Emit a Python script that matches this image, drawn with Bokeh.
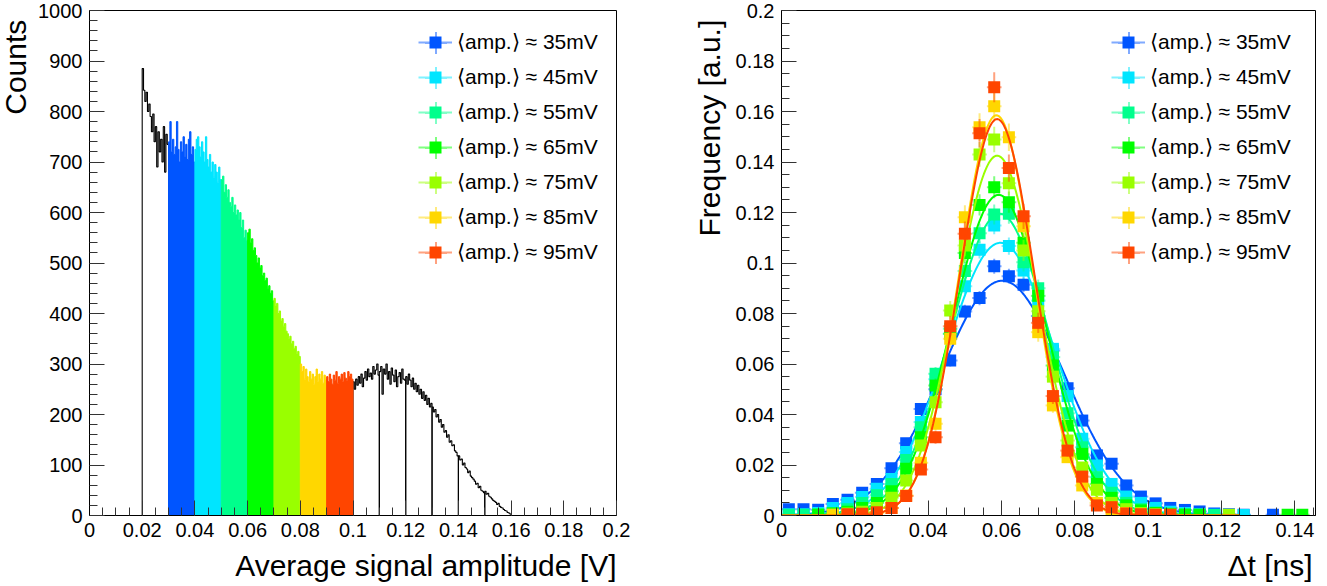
import math
import numpy as np
from bokeh.plotting import figure
from bokeh.layouts import row, column
from bokeh.models import (Label, Legend, LegendItem, SingleIntervalTicker,
                          CustomJSTickFormatter, Range1d)
from bokeh.embed import file_html
from bokeh.resources import INLINE

FONT = "Liberation Sans"
NAN = float("nan")

# ---------------------------------------------------------------- data
series_labels = ["⟨amp.⟩ ≈ 35mV", "⟨amp.⟩ ≈ 45mV", "⟨amp.⟩ ≈ 55mV",
                 "⟨amp.⟩ ≈ 65mV", "⟨amp.⟩ ≈ 75mV", "⟨amp.⟩ ≈ 85mV",
                 "⟨amp.⟩ ≈ 95mV"]
series_colors = ["#0055ff", "#00e5ff", "#00ff8c", "#00ff00",
                 "#99ff00", "#ffd700", "#ff4500"]

# Left: histogram of average signal amplitude (bin width 0.0005 V)
amp_bin_width = 0.0005
amp_slice_edges = [0.02, 0.03, 0.04, 0.05, 0.06, 0.07, 0.08, 0.09,
                   0.10, 0.11, 0.12, 0.13, 0.14, 0.15, 0.16]
counts_020_030 = [885, 842, 820, 838, 800, 815, 790, 760, 795, 740,
                  770, 690, 760, 720, 745, 700, 770, 680, 755, 735]
counts_030_040 = [740, 780, 720, 745, 715, 730, 780, 725, 700, 740,
                  720, 750, 710, 735, 705, 745, 760, 715, 730, 700]
counts_040_050 = [725, 745, 750, 730, 710, 740, 720, 700, 750, 705,
                  690, 715, 680, 700, 670, 695, 680, 660, 690, 665]
counts_050_060 = [665, 672, 640, 655, 630, 645, 620, 612, 630, 600,
                  615, 595, 605, 585, 600, 570, 585, 550, 565, 545]
counts_060_070 = [560, 567, 540, 548, 525, 530, 515, 500, 510, 490,
                  495, 475, 480, 465, 470, 450, 455, 440, 445, 425]
counts_070_080 = [430, 415, 420, 400, 405, 385, 390, 375, 380, 365,
                  360, 350, 355, 340, 345, 330, 335, 320, 325, 315]
counts_080_090 = [300, 285, 295, 270, 290, 275, 265, 285, 270, 280,
                  260, 275, 290, 265, 280, 270, 285, 262, 278, 270]
counts_090_100 = [275, 265, 280, 270, 260, 278, 268, 285, 262, 275,
                  270, 280, 265, 283, 272, 268, 285, 275, 280, 270]
counts_100_110 = [265, 250, 270, 258, 275, 262, 280, 255, 272, 285,
                  268, 290, 275, 282, 270, 295, 280, 288, 300, 278]
counts_110_120 = [285, 295, 240, 290, 280, 300, 270, 285, 260, 292,
                  278, 265, 288, 255, 275, 283, 262, 290, 270, 268]
counts_120_130 = [275, 260, 280, 268, 255, 272, 250, 262, 245, 258,
                  240, 250, 232, 245, 228, 238, 220, 232, 215, 222]
counts_130_140 = [215, 205, 210, 195, 200, 185, 190, 175, 180, 165,
                  168, 155, 160, 145, 148, 138, 140, 128, 125, 118]
counts_140_150 = [118, 110, 112, 100, 104, 95, 92, 85, 88, 78,
                  75, 72, 68, 62, 64, 55, 58, 50, 48, 45]
counts_150_160 = [48, 42, 44, 38, 36, 33, 30, 28, 26, 22,
                  24, 18, 16, 15, 12, 10, 9, 6, 5, 3]
amp_slice_counts = [counts_020_030, counts_030_040, counts_040_050,
                    counts_050_060, counts_060_070, counts_070_080,
                    counts_080_090, counts_090_100, counts_100_110,
                    counts_110_120, counts_120_130, counts_130_140,
                    counts_140_150, counts_150_160]
# which legend series colours each slice (None = black outline only)
amp_slice_series = [None, 0, 1, 2, 3, 4, 5, 6,
                    None, None, None, None, None, None]

# Right: time-difference distributions (bin centres in ns)
dt_centers = [0.002, 0.006, 0.010, 0.014, 0.018, 0.022, 0.026, 0.030,
              0.034, 0.038, 0.042, 0.046, 0.050, 0.054, 0.058, 0.062,
              0.066, 0.070, 0.074, 0.078, 0.082, 0.086, 0.090, 0.094,
              0.098, 0.102, 0.106, 0.110, 0.114, 0.118, 0.122, 0.126,
              0.130, 0.134, 0.138, 0.142]
freq_35 = [0.0025, 0.0025, 0.0023, 0.0046, 0.0062, 0.0090, 0.0125, 0.0187,
           0.0286, 0.0422, 0.0500, 0.0614, 0.0808, 0.0861, 0.0987, 0.0948,
           0.0914, 0.0790, 0.0653, 0.0504, 0.0376, 0.0238, 0.0205, 0.0119,
           0.0075, 0.0048, 0.0030, 0.0022, 0.0016, 0.0008, 0.0005, 0.0003,
           None, 0.0003, None, None]
freq_45 = [0.0005, 0.0005, 0.0010, 0.0030, 0.0050, 0.0073, 0.0106, 0.0145,
           0.0251, 0.0370, 0.0540, 0.0720, 0.0908, 0.1052, 0.1149, 0.1067,
           0.0970, 0.0851, 0.0660, 0.0473, 0.0304, 0.0198, 0.0125, 0.0075,
           0.0050, 0.0030, 0.0015, 0.0010, 0.0005, 0.0003, 0.0002, 0.0002,
           None, None, None, None]
freq_55 = [0.0003, 0.0003, 0.0005, 0.0010, 0.0025, 0.0050, 0.0080, 0.0125,
           0.0220, 0.0350, 0.0561, 0.0740, 0.0968, 0.1118, 0.1192, 0.1195,
           0.1003, 0.0900, 0.0627, 0.0405, 0.0270, 0.0152, 0.0090, 0.0050,
           0.0025, 0.0012, 0.0008, 0.0005, 0.0003, 0.0002, None, None,
           None, None, None, None]
freq_65 = [None, None, 0.0003, 0.0008, 0.0015, 0.0030, 0.0050, 0.0096,
           0.0185, 0.0310, 0.0515, 0.0720, 0.1040, 0.1230, 0.1300, 0.1241,
           0.1080, 0.0870, 0.0594, 0.0356, 0.0244, 0.0125, 0.0070, 0.0040,
           0.0020, 0.0010, 0.0006, 0.0003, 0.0003, None, None, None,
           None, None, 0.0003, 0.0003]
freq_75 = [None, None, None, 0.0003, 0.0008, 0.0015, 0.0030, 0.0070,
           0.0139, 0.0277, 0.0449, 0.0812, 0.1069, 0.1430, 0.1489, 0.1316,
           0.1050, 0.0809, 0.0550, 0.0297, 0.0190, 0.0102, 0.0050, 0.0025,
           0.0010, 0.0005, 0.0003, None, None, None, 0.0003, None,
           None, None, None, None]
freq_85 = [None, None, None, 0.0003, 0.0003, 0.0005, 0.0010, 0.0030,
           0.0079, 0.0209, 0.0363, 0.0700, 0.1181, 0.1538, 0.1621, 0.1498,
           0.1146, 0.0726, 0.0436, 0.0231, 0.0119, 0.0050, 0.0020, 0.0010,
           0.0005, 0.0003, None, None, None, None, None, None,
           None, None, None, None]
freq_95 = [None, None, None, None, 0.0005, 0.0007, 0.0013, 0.0030,
           0.0077, 0.0182, 0.0310, 0.0750, 0.1116, 0.1514, 0.1696, 0.1376,
           0.1185, 0.0763, 0.0473, 0.0257, 0.0154, 0.0040, 0.0033, 0.0008,
           0.0005, 0.0003, 0.0003, None, None, None, None, None,
           None, None, None, None]
freq_series = [freq_35, freq_45, freq_55, freq_65, freq_75, freq_85, freq_95]
# statistical error scale per series (error = scale * sqrt(frequency))
err_scale = [0.0095, 0.0105, 0.0115, 0.012, 0.013, 0.014, 0.0145]
# Gaussian fit parameters
fit_amplitude = [0.093, 0.108, 0.1195, 0.127, 0.1425, 0.1585, 0.157]
fit_mean = [0.0602, 0.0597, 0.0595, 0.0592, 0.0588, 0.0586, 0.0588]
fit_sigma = [0.0168, 0.0148, 0.0134, 0.0126, 0.0112, 0.0101, 0.0102]
fit_range = (0.0, 0.125)

# ---------------------------------------------------------------- layout
TOP_H = 547          # height of the plot row
BOTTOM_H = 39        # strip below holding the x-axis titles
W_T1, W_P1, W_T2, W_P2 = 34, 614, 82, 597
BASE_SHIFT = 12      # label anchor sits this far above the text baseline
FRAME_H = 505        # plot frame height (top border 10)
LEG_ROW = 35         # legend row pitch
LEG_GLYPH_W, LEG_GLYPH_H, BAR_GLYPH = 34, 30, 55


# ---------------------------------------------------------------- helpers
def tint(hex_color, f=0.5):
    r, g, b = (int(hex_color[i:i + 2], 16) for i in (1, 3, 5))
    mix = lambda v: int(round(v + (255 - v) * f))
    return "#%02x%02x%02x" % (mix(r), mix(g), mix(b))


def trim_formatter():
    return CustomJSTickFormatter(code="""
        var s = tick.toFixed(2);
        s = s.replace(/0+$/, '').replace(/\\.$/, '');
        if (s == '-0') { s = '0'; }
        return s;
    """)


def style_axes(p):
    p.xgrid.visible = False
    p.ygrid.visible = False
    p.outline_line_color = "black"
    p.outline_line_width = 1
    p.background_fill_color = "white"
    p.border_fill_color = "white"
    for ax in (p.xaxis[0], p.yaxis[0]):
        ax.axis_line_color = "black"
        ax.axis_line_width = 1
        ax.major_tick_in = 15
        ax.major_tick_out = 0
        ax.minor_tick_in = 8
        ax.minor_tick_out = 0
        ax.major_tick_line_color = "#333333"
        ax.minor_tick_line_color = "#333333"
        ax.major_label_text_font = FONT
        ax.major_label_text_font_size = "20px"
        ax.major_label_text_color = "black"
    p.xaxis[0].major_label_standoff = 7
    p.yaxis[0].major_label_standoff = 7


def text_canvas(w, h):
    f = figure(width=w, height=h, x_range=Range1d(0, w), y_range=Range1d(0, h),
               x_axis_type=None, y_axis_type=None, output_backend="svg",
               toolbar_location=None, min_border=0, min_border_left=0,
               min_border_right=0, min_border_top=0, min_border_bottom=0)
    f.outline_line_color = None
    f.background_fill_color = "white"
    f.border_fill_color = "white"
    return f


def add_text(f, text, x, y, align, angle=0.0):
    f.add_layout(Label(x=x, y=y, text=text, text_align=align,
                       text_baseline="alphabetic", angle=angle,
                       text_font=FONT, text_font_size="30px",
                       text_color="black"))


def add_legend(p, xo, yo):
    """ROOT-style legend: light line + light vertical error bar + square"""
    top = yo + len(series_labels) * LEG_ROW - (LEG_ROW - LEG_GLYPH_H)
    # vertical error bars (one small legend per row so they can be taller)
    for i, c in enumerate(series_colors):
        bar = p.scatter(x=[NAN], y=[NAN], marker="cross", size=22,
                        line_color=tint(c), line_width=2)
        centre = top - LEG_GLYPH_H / 2 - i * LEG_ROW
        p.add_layout(Legend(
            items=[LegendItem(label=" ", renderers=[bar])],
            location=(xo + LEG_GLYPH_W / 2 - BAR_GLYPH / 2, centre - BAR_GLYPH / 2),
            glyph_width=BAR_GLYPH, glyph_height=BAR_GLYPH, spacing=0,
            padding=0, margin=0, border_line_color=None,
            background_fill_alpha=0, label_text_font=FONT,
            label_text_font_size="21px"))
    items = []
    for lab, c in zip(series_labels, series_colors):
        ln = p.segment(x0=[NAN], y0=[NAN], x1=[NAN], y1=[NAN],
                       line_color=tint(c), line_width=2)
        sq = p.scatter(x=[NAN], y=[NAN], marker="square", size=12,
                       fill_color=c, line_color=None)
        items.append(LegendItem(label=lab, renderers=[ln, sq]))
    p.add_layout(Legend(items=items, location=(xo, yo),
                        glyph_width=LEG_GLYPH_W, glyph_height=LEG_GLYPH_H,
                        spacing=LEG_ROW - LEG_GLYPH_H,
                        padding=0, margin=0, border_line_color=None,
                        background_fill_alpha=0, label_text_font=FONT,
                        label_text_font_size="21px", label_standoff=5,
                        label_text_color="black"))


def step_outline(x0, counts, bw):
    xs = [x0]
    ys = [0]
    for i, c in enumerate(counts):
        xl = x0 + i * bw
        xs += [xl, xl + bw]
        ys += [c, c]
    xs.append(x0 + len(counts) * bw)
    ys.append(0)
    return xs, ys


# ---------------------------------------------------------------- left plot
p1 = figure(width=W_P1, height=TOP_H, x_range=Range1d(0, 0.2),
            y_range=Range1d(0, 1000), output_backend="svg",
            toolbar_location=None, min_border_left=55, min_border_right=32,
            min_border_top=10, min_border_bottom=32)
style_axes(p1)
p1.xaxis[0].ticker = SingleIntervalTicker(interval=0.02, num_minor_ticks=4)
p1.yaxis[0].ticker = SingleIntervalTicker(interval=100, num_minor_ticks=5)
p1.xaxis[0].formatter = trim_formatter()
p1.yaxis[0].formatter = CustomJSTickFormatter(code="return tick.toFixed(0);")

for i, counts in enumerate(amp_slice_counts):
    if amp_slice_series[i] is None:
        xs, ys = step_outline(amp_slice_edges[i], counts, amp_bin_width)
        p1.line(xs, ys, line_color="black", line_width=1.1)
for i, counts in enumerate(amp_slice_counts):
    k = amp_slice_series[i]
    if k is not None:
        xs, ys = step_outline(amp_slice_edges[i], counts, amp_bin_width)
        p1.patch(xs, ys, fill_color=series_colors[k],
                 line_color=series_colors[k], line_width=1)

add_legend(p1, 329, 248)

# ---------------------------------------------------------------- right plot
p2 = figure(width=W_P2, height=TOP_H, x_range=Range1d(0, 0.1456),
            y_range=Range1d(0, 0.2), output_backend="svg",
            toolbar_location=None, min_border_left=51, min_border_right=12,
            min_border_top=10, min_border_bottom=32)
style_axes(p2)
p2.xaxis[0].ticker = SingleIntervalTicker(interval=0.02, num_minor_ticks=4)
p2.yaxis[0].ticker = SingleIntervalTicker(interval=0.02, num_minor_ticks=4)
p2.xaxis[0].formatter = trim_formatter()
p2.yaxis[0].formatter = trim_formatter()

half_bin = (dt_centers[1] - dt_centers[0]) / 2
curve_x = np.linspace(fit_range[0], fit_range[1], 300)
for k, c in enumerate(series_colors):
    xs = [x for x, y in zip(dt_centers, freq_series[k]) if y is not None]
    ys = [y for y in freq_series[k] if y is not None]
    es = [err_scale[k] * math.sqrt(y) for y in ys]
    sx0 = xs + [x - half_bin for x in xs]
    sx1 = xs + [x + half_bin for x in xs]
    sy0 = [y - e for y, e in zip(ys, es)] + ys
    sy1 = [y + e for y, e in zip(ys, es)] + ys
    p2.segment(x0=sx0, y0=sy0, x1=sx1, y1=sy1, line_color=c,
               line_alpha=0.5, line_width=2)
    p2.scatter(x=xs, y=ys, marker="square", size=12, fill_color=c,
               line_color=None)
    curve_y = fit_amplitude[k] * np.exp(-0.5 * ((curve_x - fit_mean[k]) / fit_sigma[k]) ** 2)
    p2.line(curve_x, curve_y, line_color=c, line_width=2)
add_legend(p2, 330, 248)

# ---------------------------------------------------------------- axis titles
t1 = text_canvas(W_T1, TOP_H)
add_text(t1, "Counts", 27.3 - BASE_SHIFT, TOP_H - 10, "right", angle=math.pi / 2)
t2 = text_canvas(W_T2, TOP_H)
add_text(t2, "Frequency [a.u.]", 721 - W_T1 - W_P1 - BASE_SHIFT, TOP_H - 10,
         "right", angle=math.pi / 2)
tb = text_canvas(W_T1 + W_P1 + W_T2 + W_P2, BOTTOM_H)
add_text(tb, "Average signal amplitude [V]", 616, 586 - 577 + BASE_SHIFT, "right")
add_text(tb, "Δt [ns]", 1312, 586 - 577 + BASE_SHIFT, "right")

layout = column(row(t1, p1, t2, p2), tb)
open("out.html", "w").write(file_html(layout, INLINE))
